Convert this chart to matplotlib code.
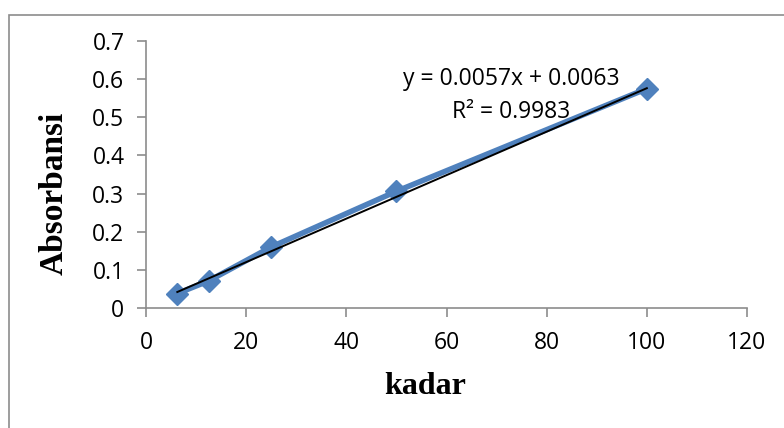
import numpy as np
import matplotlib.pyplot as plt
from matplotlib.patches import Rectangle

kadar = [6.25, 12.5, 25, 50, 100]
absorbansi = [0.038, 0.071, 0.160, 0.306, 0.575]
slope = 0.0057
intercept = 0.0063
eq_text = "y = 0.0057x + 0.0063"
r2_text = "R² = 0.9983"

fig = plt.figure(figsize=(7.84, 4.28), dpi=100)
ax = fig.add_axes([146/784, 1 - 308/428, (747 - 146)/784, (308 - 41)/428])

# outer chart frame (cropped on right/bottom)
fig.patches.append(Rectangle((9/784, -0.1), 1.2, 1 - 15/428 + 0.1,
                             transform=fig.transFigure, fill=False,
                             edgecolor='#8c8c8c', linewidth=1.2))

ax.plot(kadar, absorbansi, color='#4F81BD', linewidth=4, marker='D',
        markersize=11, markeredgecolor='#4F81BD', zorder=2)
xfit = np.array([kadar[0], kadar[-1]])
ax.plot(xfit, slope * xfit + intercept, color='black', linewidth=1.4, zorder=3)

ax.set_xlim(0, 120)
ax.set_ylim(0, 0.7)
ax.set_xticks(np.arange(0, 121, 20))
ax.set_yticks(np.arange(0, 0.71, 0.1))
ax.set_yticklabels(['0', '0.1', '0.2', '0.3', '0.4', '0.5', '0.6', '0.7'])

for s in ['top', 'right']:
    ax.spines[s].set_visible(False)
for s in ['left', 'bottom']:
    ax.spines[s].set_color('#8c8c8c')
    ax.spines[s].set_linewidth(1.2)
ax.tick_params(direction='out', length=6.5, width=1.2, color='#8c8c8c',
               labelsize=16.5)
ax.tick_params(axis='x', pad=10)
ax.tick_params(axis='y', pad=9)
for lab in ax.get_xticklabels() + ax.get_yticklabels():
    lab.set_family('Open Sans')

ax.set_xlabel('kadar', family='Liberation Serif', fontweight='bold',
              fontsize=23)
ax.xaxis.set_label_coords((425 - 146) / 601, -(387 - 308) / 267)
ax.set_ylabel('Absorbansi', family='Liberation Serif', fontweight='bold',
              fontsize=24)
ax.yaxis.set_label_coords(-(146 - 54) / 601, (308 - 193) / 267)
ax.xaxis.label.set_va('center')
ax.yaxis.label.set_va('center')

ax.text(73, 0.60, eq_text, ha='center', va='center', fontsize=16.5, family='Open Sans')
ax.text(73, 0.514, r2_text, ha='center', va='center', fontsize=16.5, family='Open Sans')

fig.savefig('out.png', dpi=100)
